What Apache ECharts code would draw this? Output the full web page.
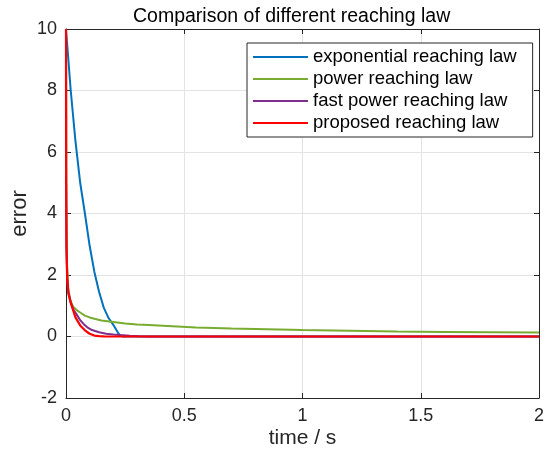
<!DOCTYPE html>
<html>
<head>
<meta charset="utf-8">
<script src="https://cdn.jsdelivr.net/npm/echarts@6/dist/echarts.min.js"></script>
<style>
  html, body { margin: 0; padding: 0; background: #fff; }
  #chart { width: 551px; height: 455px; }
</style>
</head>
<body>
<div id="chart"></div>
<script>
// Sliding-variable error over time for four reaching laws (time in s).
var expTime = [0, 0.02, 0.04, 0.06, 0.08, 0.10, 0.12, 0.14, 0.16, 0.18, 0.20, 0.22, 0.23, 0.24, 2.0];
var expErr  = [10, 8.0, 6.35, 5.0, 4.0, 2.95, 2.1, 1.45, 0.93, 0.6, 0.38, 0.12, 0.03, 0, 0];

var powTime = [0, 0.002, 0.004, 0.01, 0.02, 0.03, 0.045, 0.06, 0.08, 0.10, 0.12, 0.15, 0.20, 0.25, 0.30, 0.35, 0.45, 0.55, 0.70, 0.85, 1.0, 1.2, 1.4, 1.6, 1.8, 2.0];
var powErr  = [10, 4.0, 2.4, 1.5, 1.15, 0.97, 0.86, 0.78, 0.68, 0.62, 0.58, 0.52, 0.47, 0.42, 0.39, 0.37, 0.33, 0.29, 0.26, 0.235, 0.21, 0.19, 0.165, 0.15, 0.14, 0.13];

var fastTime = [0, 0.0005, 0.002, 0.005, 0.01, 0.02, 0.03, 0.045, 0.06, 0.075, 0.09, 0.11, 0.14, 0.17, 0.20, 0.23, 0.27, 0.31, 0.35, 2.0];
var fastErr  = [10, 5.1, 2.9, 1.9, 1.45, 1.1, 0.88, 0.72, 0.53, 0.4, 0.3, 0.21, 0.14, 0.09, 0.065, 0.045, 0.025, 0.01, 0, 0];

var propTime = [0, 0.0005, 0.002, 0.005, 0.01, 0.02, 0.04, 0.06, 0.08, 0.10, 0.12, 0.14, 0.16, 0.20, 2.0];
var propErr  = [10, 5.1, 2.9, 1.9, 1.4, 1.1, 0.62, 0.36, 0.2, 0.09, 0.03, 0.015, 0.005, 0, 0];

var seriesNames = ['exponential reaching law', 'power reaching law', 'fast power reaching law', 'proposed reaching law'];
var seriesColors = ['#0072BD', '#77AC30', '#7E2F8E', '#FF0000'];

var xTicks = { min: 0, max: 2, interval: 0.5 };
var yTicks = { min: -2, max: 10, interval: 2 };

function pairs(t, v) {
  var out = [];
  for (var i = 0; i < t.length; i++) out.push([t[i], v[i]]);
  return out;
}

var curves = [pairs(expTime, expErr), pairs(powTime, powErr), pairs(fastTime, fastErr), pairs(propTime, propErr)];

var FONT = 'Liberation Sans, Arial, Helvetica, sans-serif';
var AXIS_COLOR = '#262626';
var GRID_COLOR = '#e3e3e3';

var chart = echarts.init(document.getElementById('chart'), null, { renderer: 'canvas' });

var series = curves.map(function (d, i) {
  return {
    name: seriesNames[i],
    type: 'line',
    data: d,
    symbol: 'none',
    smooth: false,
    animation: false,
    lineStyle: { color: seriesColors[i], width: i === 3 ? 2.2 : 2 },
    itemStyle: { color: seriesColors[i] },
    z: 3 + i
  };
});

chart.setOption({
  animation: false,
  backgroundColor: '#fff',
  title: {
    text: 'Comparison of different reaching law',
    left: 128, top: 2,
    textStyle: { fontFamily: FONT, fontSize: 19.5, fontWeight: 'normal', color: '#000' }
  },
  grid: { left: 66, top: 29, right: 12, bottom: 57, containLabel: false, outerBoundsMode: 'none' },
  legend: {
    orient: 'vertical',
    left: 247, top: 43,
    data: seriesNames,
    icon: 'rect',
    itemWidth: 55, itemHeight: 2,
    itemGap: 2,
    padding: [4, 16, 4, 6],
    backgroundColor: '#fff',
    borderColor: AXIS_COLOR,
    borderWidth: 1,
    borderRadius: 0,
    textStyle: { fontFamily: FONT, fontSize: 18.5, color: '#000', lineHeight: 20 },
    selectedMode: false
  },
  xAxis: [{
    type: 'value', position: 'bottom',
    min: xTicks.min, max: xTicks.max, interval: xTicks.interval,
    name: 'time / s', nameLocation: 'middle', nameGap: 30, nameMoveOverlap: false,
    nameTextStyle: { fontFamily: FONT, fontSize: 21, color: AXIS_COLOR },
    axisLine: { show: true, onZero: false, lineStyle: { color: AXIS_COLOR, width: 1 } },
    axisTick: { show: true, inside: true, length: 5, lineStyle: { color: AXIS_COLOR } },
    axisLabel: { fontFamily: FONT, fontSize: 18, color: AXIS_COLOR, margin: 9,
      formatter: function (v) { return String(v); } },
    splitLine: { show: true, lineStyle: { color: GRID_COLOR, width: 1 } }
  }, {
    type: 'value', position: 'top',
    min: xTicks.min, max: xTicks.max, interval: xTicks.interval,
    axisLine: { show: true, onZero: false, lineStyle: { color: AXIS_COLOR, width: 1 } },
    axisTick: { show: true, inside: true, length: 5, lineStyle: { color: AXIS_COLOR } },
    axisLabel: { show: false },
    splitLine: { show: false }
  }],
  yAxis: [{
    type: 'value', position: 'left',
    min: yTicks.min, max: yTicks.max, interval: yTicks.interval,
    name: 'error', nameLocation: 'middle', nameGap: 35, nameMoveOverlap: false,
    nameTextStyle: { fontFamily: FONT, fontSize: 22, color: AXIS_COLOR },
    axisLine: { show: true, onZero: false, lineStyle: { color: AXIS_COLOR, width: 1 } },
    axisTick: { show: true, inside: true, length: 5, lineStyle: { color: AXIS_COLOR } },
    axisLabel: { fontFamily: FONT, fontSize: 18, color: AXIS_COLOR, margin: 9 },
    splitLine: { show: true, lineStyle: { color: GRID_COLOR, width: 1 } }
  }, {
    type: 'value', position: 'right',
    min: yTicks.min, max: yTicks.max, interval: yTicks.interval,
    axisLine: { show: true, onZero: false, lineStyle: { color: AXIS_COLOR, width: 1 } },
    axisTick: { show: true, inside: true, length: 5, lineStyle: { color: AXIS_COLOR } },
    axisLabel: { show: false },
    splitLine: { show: false }
  }],
  series: series
});
</script>
</body>
</html>
